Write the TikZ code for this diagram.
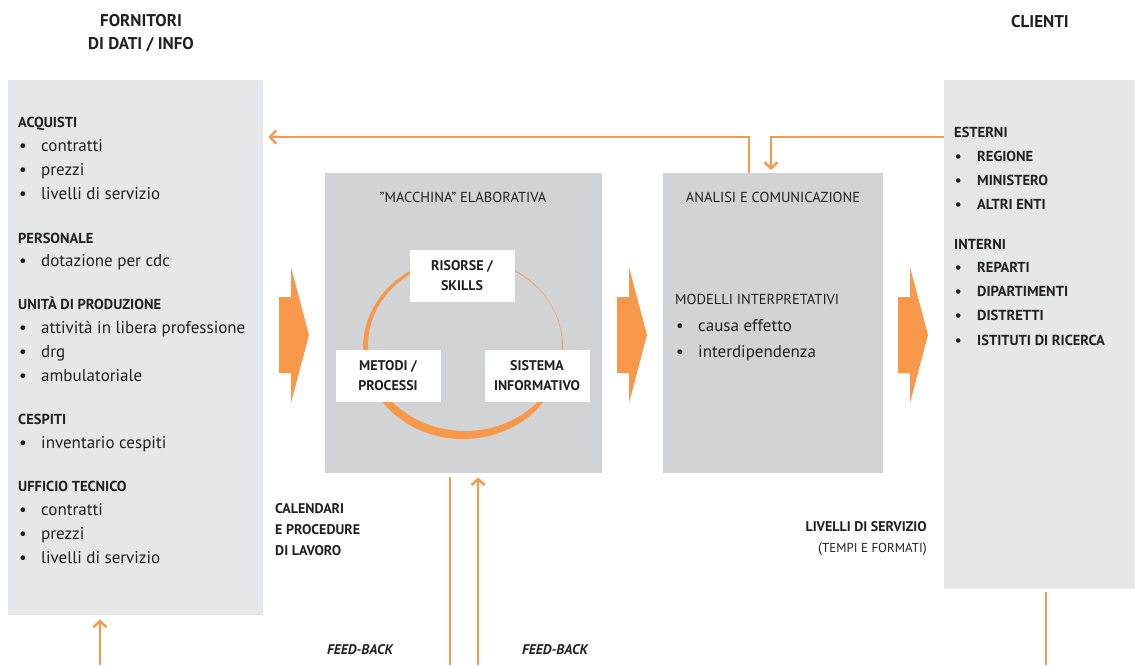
\documentclass[tikz,border=0pt]{standalone}
\usepackage{fontspec}
\setmainfont{PT Sans}
\usetikzlibrary{arrows.meta}
\definecolor{FlowOrange}{RGB}{247,152,74}
\definecolor{PanelLight}{RGB}{230,231,232}
\definecolor{PanelDark}{RGB}{209,211,212}
\definecolor{InkGray}{RGB}{35,31,32}
\newcommand\blt{\makebox[22pt][l]{\textbullet}}

\begin{document}
\begin{tikzpicture}[x=1pt, y=-1pt,
  panel/.style={fill=PanelLight, inner sep=0, anchor=north west},
  engine/.style={fill=PanelDark, inner sep=0, anchor=north west, minimum width=277, minimum height=300},
  card/.style={fill=white, inner sep=0, minimum width=105, minimum height=52, align=center, text=InkGray, font=\bfseries\fontsize{14}{20}\selectfont},
  txt/.style={inner sep=0, anchor=base west, text=InkGray},
  head/.style={txt, font=\bfseries\fontsize{14.5}{16}\selectfont},
  item/.style={txt, font=\fontsize{17}{19}\selectfont},
  capitem/.style={txt, font=\bfseries\fontsize{14.5}{16}\selectfont},
  conn/.style={draw=FlowOrange, line width=2.5pt, -{Straight Barb[length=6pt,width=13pt]}},
  flow/.style={draw=FlowOrange, line width=2.5pt}]
\useasboundingbox (0,0) rectangle (1135,665);

% column headers
\node[align=center, text=InkGray, font=\bfseries\fontsize{17}{23}\selectfont] (hforn) at (141,33) {FORNITORI\\DI DATI / INFO};
\node[text=InkGray, font=\bfseries\fontsize{17}{23}\selectfont] (hcli) at (1040,22) {CLIENTI};

% panels
\node[panel, minimum width=255, minimum height=535] (fornitori) at (8,80) {};
\node[panel, minimum width=191, minimum height=509] (clienti) at (944,80) {};
\node[engine] (macchina) at (325,173) {};
\node[engine, minimum width=220] (analisi) at (663,173) {};

% big arrows between panels
\foreach \xa in {279,617,898}
  \fill[FlowOrange] (\xa,297) -- (\xa+12,297) -- (\xa+12,267) -- (\xa+30,335)
    -- (\xa+12,403) -- (\xa+12,373) -- (\xa,373) -- cycle;

% left list
\foreach \y/\t [count=\i] in {127/ACQUISTI, 243/PERSONALE, 309/UNITÀ DI PRODUZIONE, 424/CESPITI, 491/UFFICIO TECNICO}
  \node[head] (lh\i) at (18,\y) {\t};
\foreach \y/\t [count=\i] in {151/contratti, 175/prezzi, 199/livelli di servizio, 266/dotazione per cdc, 333/attività in libera professione, 357/drg, 381/ambulatoriale, 448/inventario cespiti, 515/contratti, 539/prezzi, 563/livelli di servizio}
  \node[item] (li\i) at (19,\y) {\blt\t};

% right list
\foreach \y/\t [count=\i] in {137/ESTERNI, 249/INTERNI}
  \node[head] (rh\i) at (954,\y) {\t};
\foreach \y/\t [count=\i] in {161/REGIONE, 185/MINISTERO, 209/ALTRI ENTI, 272/REPARTI, 296/DIPARTIMENTI, 320/DISTRETTI, 345/ISTITUTI DI RICERCA}
  \node[capitem] (ri\i) at (955,\y) {\blt\t};

% "macchina" elaborativa
\node[text=InkGray, font=\fontsize{14.5}{16}\selectfont] (mtitle) at (463,197) {''MACCHINA'' ELABORATIVA};
\fill[FlowOrange, even odd rule] (463,348) ellipse [x radius=100, y radius=91]
  (465,345) ellipse [x radius=97, y radius=86];
\node[card] (risorse) at (462,276) {RISORSE /\\SKILLS};
\node[card] (metodi) at (388,376) {METODI /\\PROCESSI};
\node[card] (sistema) at (537,376) {SISTEMA\\INFORMATIVO};

% analisi e comunicazione
\node[text=InkGray, font=\fontsize{14.5}{16}\selectfont] (atitle) at (773,197) {ANALISI E COMUNICAZIONE};
\node[txt, font=\fontsize{14.5}{16}\selectfont] (modelli) at (675,304) {MODELLI INTERPRETATIVI};
\node[item] (mod1) at (676,331) {\blt causa effetto};
\node[item] (mod2) at (676,357) {\blt interdipendenza};

% side notes
\node[anchor=north west, inner sep=0, align=left, text=InkGray, font=\bfseries\fontsize{14}{21}\selectfont] (calend) at (275,503) {CALENDARI\\E PROCEDURE\\DI LAVORO};
\node[anchor=north east, inner sep=0, align=right, text=InkGray, font=\fontsize{14}{21}\selectfont] (livelli) at (927,521) {\textbf{LIVELLI DI SERVIZIO}\\({\fontsize{13}{21}\selectfont TEMPI E FORMATI})};
\node[text=InkGray, font=\bfseries\itshape\fontsize{14}{16}\selectfont] (fb1) at (360,650) {FEED-BACK};
\node[text=InkGray, font=\bfseries\itshape\fontsize{14}{16}\selectfont] (fb2) at (555,650) {FEED-BACK};

% connectors
\coordinate (upa) at (749,137);
\coordinate (dna) at (771,137);
\coordinate (lowa) at (100,665);
\coordinate (lowb) at (450,665);
\coordinate (lowc) at (478,665);
\coordinate (lowd) at (1046,665);
\draw[conn, shorten >=5pt] (upa |- analisi.north) -- (upa) -- (upa -| fornitori.east);
\draw[conn, shorten >=3pt] (dna -| clienti.west) -- (dna) -- (dna |- analisi.north);
\draw[conn, shorten >=4pt] (lowa) -- (lowa |- fornitori.south);
\draw[flow, shorten <=4pt] (lowb |- macchina.south) -- (lowb);
\draw[conn, shorten >=4pt] (lowc) -- (lowc |- macchina.south);
\draw[flow, shorten <=3pt] (lowd |- clienti.south) -- (lowd);
\end{tikzpicture}
\end{document}
